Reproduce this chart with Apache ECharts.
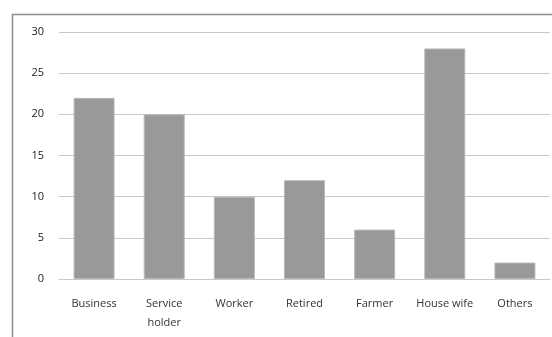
<!DOCTYPE html>
<html><head><meta charset="utf-8">
<script src="https://cdn.jsdelivr.net/npm/echarts@6/dist/echarts.min.js"></script>
<style>html,body{margin:0;padding:0;background:#fff}#c{width:552px;height:337px}</style>
</head><body><div id="c"></div>
<script>
const categories = ['Business', 'Service\nholder', 'Worker', 'Retired', 'Farmer', 'House wife', 'Others'];
const values = [22, 20, 10, 12, 6, 28, 2];
const yTicks = [0, 5, 10, 15, 20, 25, 30];

const chart = echarts.init(document.getElementById('c'), null, {renderer: 'canvas'});
chart.setOption({
  animation: false,
  backgroundColor: '#fff',
  graphic: [{
    type: 'polyline',
    shape: {points: [[12.5, 340], [12.5, 14.5], [560, 14.5]]},
    style: {stroke: '#8c8c8c', lineWidth: 1.5, fill: null},
    silent: true
  }],
  grid: {left: 59, right: 2, top: 32, bottom: 58},
  xAxis: {
    type: 'category',
    data: categories,
    axisTick: {show: false},
    axisLine: {show: true, lineStyle: {color: '#c8c8c8', width: 1}},
    axisLabel: {color: '#333', fontFamily: 'Open Sans', fontSize: 11, margin: 15, lineHeight: 19, interval: 0}
  },
  yAxis: {
    type: 'value',
    min: yTicks[0], max: yTicks[yTicks.length - 1], interval: 5,
    axisLine: {show: false},
    axisTick: {show: false},
    splitLine: {lineStyle: {color: '#c8c8c8', width: 1}},
    axisLabel: {color: '#222', fontFamily: 'Open Sans', fontSize: 11, margin: 15}
  },
  series: [{
    type: 'bar',
    data: values,
    barWidth: 41,
    itemStyle: {color: '#999999', borderColor: '#b8b8b8', borderWidth: 1}
  }]
});
</script></body></html>
